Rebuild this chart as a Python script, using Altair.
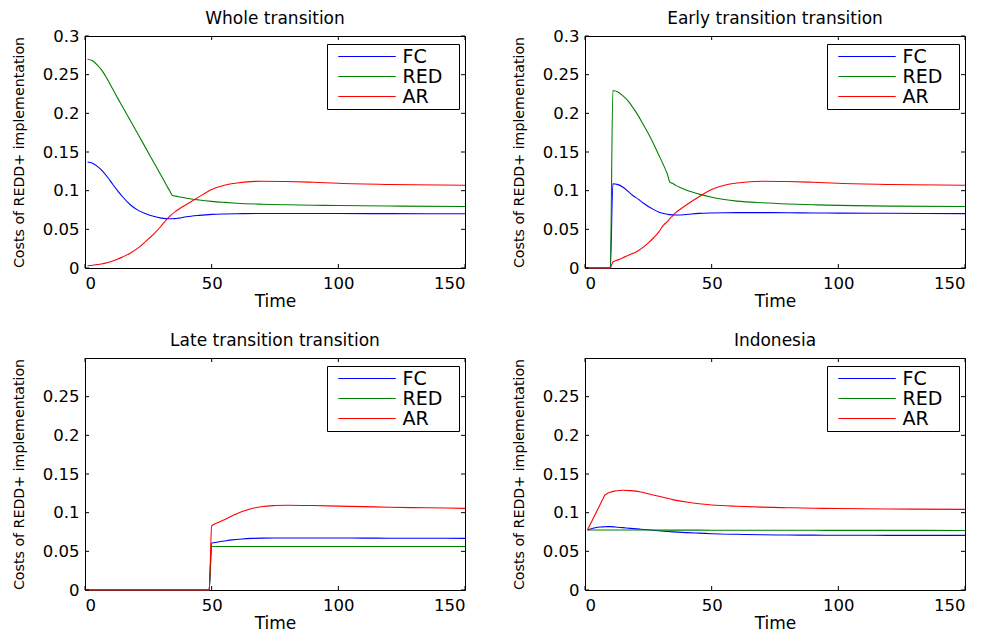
import altair as alt
import pandas as pd

SERIES = ["FC", "RED", "AR"]
COLORS = ["#0000ff", "#008000", "#ff0000"]
X_TICKS = [0, 50, 100, 150]
Y_TICKS_TOP = [0, 0.05, 0.1, 0.15, 0.2, 0.25, 0.3]
Y_TICKS_BOTTOM = [0, 0.05, 0.1, 0.15, 0.2, 0.25]
TITLES = ["Whole transition", "Early transition transition",
          "Late transition transition", "Indonesia"]

# Whole transition
whole_t = [1, 3, 5, 7, 9, 11, 13, 15, 18, 21, 24, 27, 30, 32, 33.5, 34.5, 35.5,
           37, 40, 45, 50, 55, 60, 70, 80, 90, 100, 120, 150]
whole_fc = [0.137, 0.1355, 0.131, 0.125, 0.117, 0.108, 0.0995, 0.0915, 0.0815,
            0.0745, 0.0702, 0.0668, 0.0645, 0.0638, 0.0637, 0.0637, 0.0638,
            0.0645, 0.0662, 0.068, 0.0693, 0.0699, 0.0702, 0.0705, 0.0705,
            0.0705, 0.0704, 0.0703, 0.0702]
whole_red = [0.270, 0.268, 0.262, 0.254, 0.243, 0.231, 0.219, 0.2075, 0.190,
             0.1725, 0.155, 0.1375, 0.120, 0.108, 0.0995, 0.0937, 0.0931,
             0.0922, 0.0903, 0.088, 0.0862, 0.0849, 0.0838, 0.0825, 0.0817,
             0.0812, 0.0808, 0.0801, 0.0795]
whole_ar = [0.003, 0.0035, 0.0045, 0.0055, 0.007, 0.009, 0.0115, 0.0145,
            0.0195, 0.026, 0.0345, 0.0435, 0.054, 0.062, 0.067, 0.070, 0.0725,
            0.076, 0.082, 0.092, 0.1015, 0.107, 0.110, 0.1122, 0.1118, 0.1108,
            0.1095, 0.108, 0.107]

# Early transition
early_t = [0, 10, 11, 13, 15, 17, 19, 21, 23, 25, 27, 29, 31, 32.5, 33.5, 34.5,
           36, 38, 41, 45, 50, 55, 60, 70, 80, 90, 100, 120, 150]
early_fc = [0, 0, 0.109, 0.1078, 0.1045, 0.0990, 0.0935, 0.089, 0.084, 0.0795,
            0.0758, 0.0725, 0.0705, 0.0696, 0.069, 0.0687, 0.0685, 0.0686,
            0.0695, 0.0706, 0.0712, 0.0715, 0.0716, 0.0716, 0.0714, 0.0712,
            0.071, 0.0707, 0.0703]
early_red = [0, 0, 0.2295, 0.2275, 0.2225, 0.216, 0.207, 0.197, 0.1855, 0.174,
             0.161, 0.147, 0.133, 0.1215, 0.111, 0.1095, 0.1065, 0.1035,
             0.0995, 0.0955, 0.0915, 0.0885, 0.0865, 0.0843, 0.0828, 0.0818,
             0.081, 0.080, 0.0795]
early_ar = [0, 0, 0.0078, 0.0105, 0.0134, 0.0163, 0.019, 0.0222, 0.027,
            0.0325, 0.0388, 0.046, 0.0555, 0.060, 0.064, 0.0672, 0.0722,
            0.077, 0.0838, 0.0922, 0.1015, 0.107, 0.110, 0.1122, 0.1118,
            0.1108, 0.1095, 0.108, 0.107]

# Late transition
late_t = [0, 49, 50, 52, 55, 58, 62, 66, 70, 75, 80, 90, 100, 110, 120, 135, 150]
late_fc = [0, 0, 0.0604, 0.0617, 0.0633, 0.0648, 0.066, 0.0667, 0.0671,
           0.0673, 0.0673, 0.0673, 0.0672, 0.0671, 0.067, 0.0669, 0.0668]
late_red = [0, 0, 0.0562, 0.0562, 0.0562, 0.0562, 0.0562, 0.0562, 0.0562,
            0.0562, 0.0562, 0.0562, 0.0562, 0.0562, 0.0562, 0.0562, 0.0562]
late_ar = [0, 0, 0.0828, 0.0865, 0.091, 0.0957, 0.1015, 0.1055, 0.108,
           0.1092, 0.1096, 0.1092, 0.1085, 0.1078, 0.107, 0.1063, 0.1056]

# Indonesia
indo_t = [1, 4, 7, 7.7, 8.5, 10, 12, 15, 18, 22, 26, 30, 35, 40, 45, 50, 60,
          70, 80, 90, 100, 120, 150]
indo_fc = [0.0776, 0.0805, 0.0816, 0.0818, 0.0819, 0.0819, 0.0815, 0.0806,
           0.0797, 0.0786, 0.0775, 0.0763, 0.0751, 0.0742, 0.0735, 0.0728,
           0.072, 0.0714, 0.0711, 0.0709, 0.0708, 0.0707, 0.0706]
indo_red = [0.0776, 0.0776, 0.0776, 0.0776, 0.0776, 0.0776, 0.0775, 0.0775,
            0.0775, 0.0775, 0.0775, 0.0774, 0.0774, 0.0774, 0.0774, 0.0773,
            0.0773, 0.0772, 0.0772, 0.0772, 0.0771, 0.0771, 0.0770]
indo_ar = [0.0776, 0.0975, 0.1175, 0.122, 0.1242, 0.1265, 0.128, 0.129,
           0.1285, 0.1268, 0.1235, 0.1205, 0.1165, 0.1137, 0.1115, 0.110,
           0.1083, 0.1072, 0.1064, 0.1058, 0.1053, 0.1047, 0.1043]

W, H = 380, 232
FONT = "DejaVu Sans"


def panel(title, t, fc, red, ar, yticks, title_dy):
    rows = []
    for name, vals in zip(SERIES, [fc, red, ar]):
        for ti, vi in zip(t, vals):
            rows.append({"t": ti, "v": vi, "series": name})
    df = pd.DataFrame(rows)
    xs = alt.Scale(domain=[0, 150], nice=False, zero=False)
    ys = alt.Scale(domain=[0, 0.3], nice=False, zero=False)
    xax = alt.Axis(values=X_TICKS, title="Time", labelPadding=7.5,
                   titleFontSize=17, titleX=W / 2, titleY=38.7,
                   titleBaseline="alphabetic", titleAlign="center")
    yax = alt.Axis(values=yticks, format=".2~f",
                   title="Costs of REDD+ implementation",
                   labelPadding=6, labelFlush=False, titleFontSize=14.2,
                   titleX=-66, titleY=H / 2, titleAlign="center",
                   titleBaseline="middle")
    X = alt.X("t:Q", scale=xs, axis=xax, title="Time")
    Y = alt.Y("v:Q", scale=ys, axis=yax, title="Costs of REDD+ implementation")
    lines = alt.Chart(df).mark_line(strokeWidth=1.1, interpolate="monotone").encode(
        x=X, y=Y,
        color=alt.Color("series:N",
                        scale=alt.Scale(domain=SERIES, range=COLORS),
                        legend=alt.Legend(
                            title=None, orient="none", legendX=242, legendY=8,
                            direction="vertical", symbolType="stroke",
                            symbolSize=3300, symbolStrokeWidth=1.1,
                            labelFont=FONT, labelFontSize=19,
                            labelColor="black", strokeColor="black",
                            fillColor="white", padding=2.5, rowPadding=0,
                            clipHeight=20, symbolOffset=8,
                            labelOffset=6,
                            labelExpr="datum.label + '\u2800'")),
    )
    ydf = pd.DataFrame({"v": yticks})
    xdf = pd.DataFrame({"t": X_TICKS})
    yl = alt.Chart(ydf).mark_rule(color="black", strokeWidth=1).encode(
        y=Y, x=alt.value(0), x2=alt.value(4))
    yr = alt.Chart(ydf).mark_rule(color="black", strokeWidth=1).encode(
        y=Y, x=alt.value(W), x2=alt.value(W - 4))
    xb = alt.Chart(xdf).mark_rule(color="black", strokeWidth=1).encode(
        x=X, y=alt.value(H), y2=alt.value(H - 4))
    xt = alt.Chart(xdf).mark_rule(color="black", strokeWidth=1).encode(
        x=X, y=alt.value(0), y2=alt.value(4))
    return alt.layer(lines, yl, yr, xb, xt).properties(
        width=W, height=H,
        title=alt.TitleParams(title, font=FONT, fontSize=17,
                              fontWeight="normal", color="black",
                              anchor="middle", offset=0, dy=title_dy,
                              baseline="alphabetic"))


p1 = panel(TITLES[0], whole_t, whole_fc, whole_red, whole_ar, Y_TICKS_TOP, 13.3)
p2 = panel(TITLES[1], early_t, early_fc, early_red, early_ar, Y_TICKS_TOP, 13.3)
p3 = panel(TITLES[2], late_t, late_fc, late_red, late_ar, Y_TICKS_BOTTOM, 5.7)
p4 = panel(TITLES[3], indo_t, indo_fc, indo_red, indo_ar, Y_TICKS_BOTTOM, 5.7)

chart = alt.concat(
    p1, p2, p3, p4, columns=2, bounds="flush",
    spacing={"row": 90, "column": 120},
).resolve_scale(color="independent").properties(
    padding={"left": 3, "top": 1, "right": 4, "bottom": 0},
    background="white",
).configure_view(stroke="black", strokeWidth=1).configure_axis(
    domain=False, grid=False, tickSize=0, labelFont=FONT, labelFontSize=16.5,
    labelColor="black", titleFont=FONT, titleFontWeight="normal",
    titleColor="black",
)

chart.save("out.html", embed_options={"renderer": "svg", "actions": False})
